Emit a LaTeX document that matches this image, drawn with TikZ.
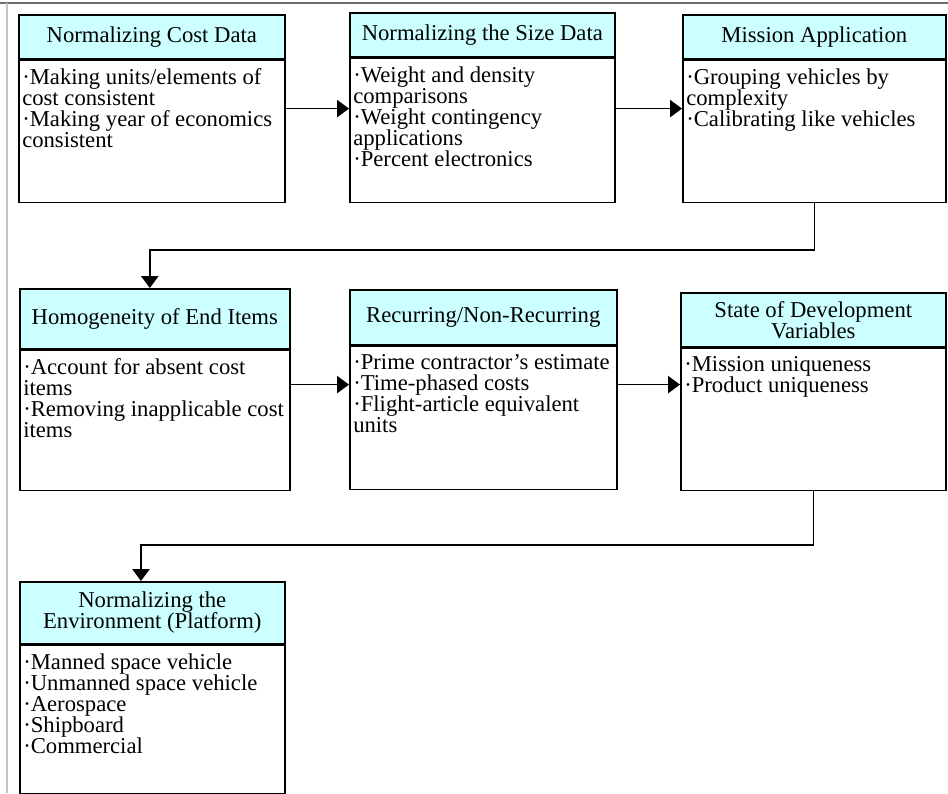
\documentclass[tikz,border=0pt]{standalone}
\usepackage{fontspec}
\setmainfont{Liberation Serif}
\usepackage{xcolor}
\usepackage{tikz}
\usetikzlibrary{positioning,arrows.meta}
\definecolor{headcyan}{RGB}{204,255,255}
\definecolor{framegray}{RGB}{110,110,110}
\definecolor{edgegray}{RGB}{195,195,195}

\begin{document}
\begin{tikzpicture}[x=0.75pt, y=-0.75pt,
  head/.style={draw, line width=1.2pt, fill=headcyan, anchor=north west, align=center, inner sep=1pt, font=\fontsize{17}{15.75}\selectfont},
  body/.style={draw, line width=1.2pt, fill=white, inner sep=0pt},
  items/.style={anchor=north west, align=left, inner xsep=3pt, inner ysep=6.5pt, font=\fontsize{17}{15.75}\selectfont},
  flow/.style={line width=1.2pt, -{Triangle[length=9pt, width=13pt]}}]
\useasboundingbox (0,0) rectangle (948,793);
\draw[framegray, line width=1pt] (0,3) -- (948,3);
\draw[edgegray, line width=1pt] (7,3) -- (7,793);

% first row
\node[head, minimum width=199.5pt, minimum height=33pt] (costH) at (18,14) {Normalizing Cost Data};
\node[body, minimum width=199.5pt, minimum height=106.5pt, below=0pt of costH] (cost) {};
\node[items] (costT) at (cost.north west) {·Making units/elements of\\cost consistent\\·Making year of economics\\consistent};

\node[head, minimum width=198.75pt, minimum height=33pt] (sizeH) at (349,12) {Normalizing the Size Data};
\node[body, minimum width=198.75pt, minimum height=108pt, below=0pt of sizeH] (size) {};
\node[items] (sizeT) at (size.north west) {·Weight and density\\comparisons\\·Weight contingency\\applications\\·Percent electronics};

\node[head, minimum width=197.25pt, minimum height=33pt] (missionH) at (682,14) {Mission Application};
\node[body, minimum width=197.25pt, minimum height=106.5pt, below=0pt of missionH] (mission) {};
\node[items] (missionT) at (mission.north west) {·Grouping vehicles by\\complexity\\·Calibrating like vehicles};

% second row
\node[head, minimum width=202.5pt, minimum height=45pt] (homH) at (19,288) {Homogeneity of End Items};
\node[body, minimum width=202.5pt, minimum height=105pt, below=0pt of homH] (hom) {};
\node[items] (homT) at (hom.north west) {·Account for absent cost\\items\\·Removing inapplicable cost\\items};

\node[head, minimum width=200.25pt, minimum height=41.25pt] (recH) at (349,289) {Recurring/Non-Recurring};
\node[body, minimum width=200.25pt, minimum height=107.25pt, below=0pt of recH] (rec) {};
\node[items] (recT) at (rec.north west) {·Prime contractor's estimate\\·Time-phased costs\\·Flight-article equivalent\\units};

\node[head, minimum width=198.75pt, minimum height=40.5pt] (develH) at (680,292) {State of Development\\Variables};
\node[body, minimum width=198.75pt, minimum height=106.5pt, below=0pt of develH] (devel) {};
\node[items] (develT) at (devel.north west) {·Mission uniqueness\\·Product uniqueness};

% third row
\node[head, minimum width=198.75pt, minimum height=46.5pt] (envH) at (19,581) {Normalizing the\\Environment (Platform)};
\node[body, minimum width=198.75pt, minimum height=111pt, below=0pt of envH] (env) {};
\node[items] (envT) at (env.north west) {·Manned space vehicle\\·Unmanned space vehicle\\·Aerospace\\·Shipboard\\·Commercial};

% connectors
\coordinate (r1) at ([yshift=-36.75pt]cost.north east);
\draw[flow] (r1) -- (r1 -| size.west);
\coordinate (r2) at ([yshift=-38.25pt]size.north east);
\draw[flow] (r2) -- (r2 -| mission.west);
\draw[flow] (mission.south) -- ++(0,47) -| ([xshift=-3.75pt]homH.north);
\coordinate (r3) at ([yshift=-26.25pt]hom.north east);
\draw[flow] (r3) -- (r3 -| rec.west);
\coordinate (r4) at ([yshift=-29.25pt]rec.north east);
\draw[flow] (r4) -- (r4 -| devel.west);
\draw[flow] (devel.south) -- ++(0,54) -| ([xshift=-8.5pt]envH.north);
\end{tikzpicture}
\end{document}
